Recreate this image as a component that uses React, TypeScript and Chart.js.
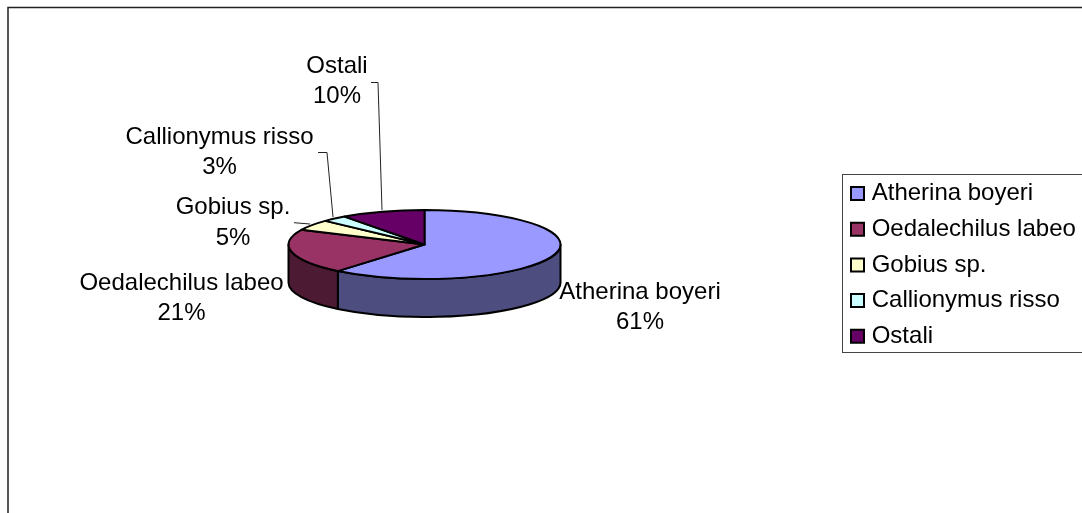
import { useEffect, useRef } from "react";
import { Chart, registerables } from "chart.js";

Chart.register(...registerables);

const species = ["Atherina boyeri", "Oedalechilus labeo", "Gobius sp.", "Callionymus risso", "Ostali"];
const shares = [61, 21, 5, 3, 10];
const sliceColors = ["#9999FF", "#993366", "#FFFFCC", "#CCFFFF", "#660066"];

// Projected disc of the pie, in canvas pixels.
const disc = { cx: 424.5, cy: 244.5, rx: 136, ry: 34.5, depth: 38 };
const legendFrame = { x: 842.5, y: 174.5, w: 260, h: 178 };
const FONT = '24px "Liberation Sans", Arial, sans-serif';

// Callout label centres (name line, value line) and their leader polylines.
const calloutCentres = [
  [640, 292.5, 322.5],
  [181.5, 283.5, 313],
  [233, 207.5, 238.5],
  [219.5, 137.5, 167.5],
  [337, 66, 96.5],
];
const leaders: number[][][] = [
  [],
  [],
  [[294, 222.7], [310, 224]],
  [[318, 152.5], [327, 152.5], [333, 217]],
  [[371, 82.5], [378, 82.5], [382, 210]],
];

function shade(hex: string, f: number) {
  const n = parseInt(hex.slice(1), 16);
  const c = (s: number) => Math.round(((n >> s) & 255) * f);
  return `rgb(${c(16)},${c(8)},${c(0)})`;
}

const pie3d = {
  id: "pie3d",
  afterLayout(chart: any) {
    // Put the legend block inside its framed box on the right.
    const lg = chart.legend;
    const pad = lg.options.labels.padding;
    lg.left = 855.3 - pad;
    lg.right = 1200;
    lg.top = 181.5 - pad;
    lg.bottom = 800;
  },
  beforeDraw(chart: any) {
    const { ctx } = chart;
    ctx.save();
    ctx.fillStyle = "#fff";
    ctx.fillRect(0, 0, chart.width, chart.height);
    ctx.strokeStyle = "#222";
    ctx.lineWidth = 1.5;
    ctx.strokeRect(8, 7.5, 1200, 700);
    ctx.strokeStyle = "#444";
    ctx.lineWidth = 1;
    ctx.strokeRect(legendFrame.x, legendFrame.y, legendFrame.w, legendFrame.h);
    ctx.restore();
  },
  beforeDatasetDraw(chart: any) {
    const { ctx } = chart;
    const { cx, cy, rx, ry, depth } = disc;
    const arcs = chart.getDatasetMeta(0).data;
    ctx.save();
    ctx.lineWidth = 2;
    ctx.strokeStyle = "#000";
    ctx.lineJoin = "round";
    // Rim: only the part of each slice facing the viewer.
    arcs.forEach((arc: any, i: number) => {
      const a = Math.max(arc.startAngle, 0);
      const b = Math.min(arc.endAngle, Math.PI);
      if (b <= a) return;
      ctx.beginPath();
      ctx.ellipse(cx, cy, rx, ry, 0, a, b);
      ctx.ellipse(cx, cy + depth, rx, ry, 0, b, a, true);
      ctx.closePath();
      ctx.fillStyle = shade(sliceColors[i], 0.5);
      ctx.fill();
      ctx.stroke();
    });
    // Top face.
    arcs.forEach((arc: any, i: number) => {
      ctx.beginPath();
      ctx.moveTo(cx, cy);
      ctx.ellipse(cx, cy, rx, ry, 0, arc.startAngle, arc.endAngle);
      ctx.closePath();
      ctx.fillStyle = sliceColors[i];
      ctx.fill();
      ctx.stroke();
    });
    ctx.restore();
    return false;
  },
  afterDatasetsDraw(chart: any) {
    const { ctx } = chart;
    const values: number[] = chart.data.datasets[0].data;
    const total = values.reduce((s, v) => s + v, 0);
    ctx.save();
    ctx.strokeStyle = "#222";
    ctx.lineWidth = 1;
    leaders.forEach((pts) => {
      if (!pts.length) return;
      ctx.beginPath();
      pts.forEach(([x, y], k) => (k ? ctx.lineTo(x, y) : ctx.moveTo(x, y)));
      ctx.stroke();
    });
    ctx.font = FONT;
    ctx.fillStyle = "#000";
    ctx.textAlign = "center";
    ctx.textBaseline = "middle";
    chart.data.labels.forEach((name: string, i: number) => {
      const [x, y1, y2] = calloutCentres[i];
      ctx.fillText(name, x, y1);
      ctx.fillText(`${Math.round((values[i] / total) * 100)}%`, x, y2);
    });
    ctx.restore();
  },
};

export default function App() {
  const ref = useRef<HTMLCanvasElement>(null);
  useEffect(() => {
    const chart = new Chart(ref.current!, {
      type: "pie",
      data: {
        labels: species,
        datasets: [{ data: shares, backgroundColor: sliceColors, borderColor: "#000", borderWidth: 2 }],
      },
      options: {
        animation: false,
        responsive: false,
        plugins: {
          tooltip: { enabled: false },
          legend: {
            position: "right",
            align: "start",
            labels: {
              color: "#000",
              font: { family: '"Liberation Sans", Arial, sans-serif', size: 24 },
              usePointStyle: true,
              pointStyle: "rect",
              boxWidth: 4.4,
              boxHeight: 13,
              padding: 11.7,
            },
          },
        },
      },
      plugins: [pie3d],
    } as any);
    return () => chart.destroy();
  }, []);
  return (
    <canvas
      ref={ref}
      width={1082}
      height={513}
      style={{ position: "fixed", left: 0, top: 0, width: 1082, height: 513, display: "block" }}
    />
  );
}
